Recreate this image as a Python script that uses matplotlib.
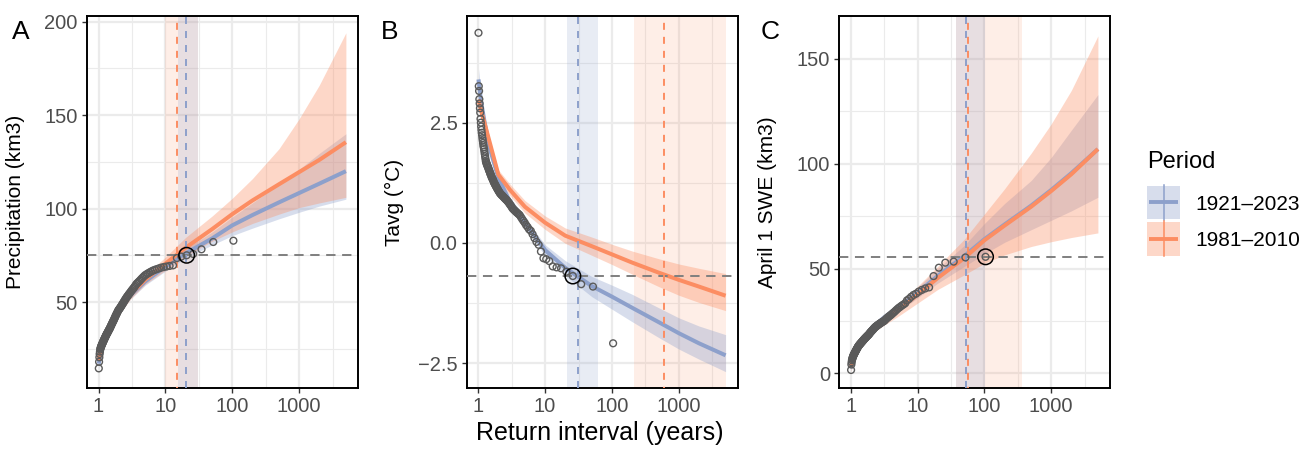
import matplotlib
matplotlib.use('Agg')
import matplotlib.pyplot as plt
from matplotlib.patches import Rectangle

plt.rcParams['font.family'] = ['Liberation Sans', 'DejaVu Sans']

BLUE = '#8DA0CB'
ORANGE = '#FC8D62'

# empirical return interval of each ranked year (shared by the three panels)
return_interval = [
    104.0, 52.0, 34.667, 26.0, 20.8, 17.333, 14.857, 13.0, 11.556, 10.4,
    9.455, 8.667, 8.0, 7.429, 6.933, 6.5, 6.118, 5.778, 5.474, 5.2,
    4.952, 4.727, 4.522, 4.333, 4.16, 4.0, 3.852, 3.714, 3.586, 3.467,
    3.355, 3.25, 3.152, 3.059, 2.971, 2.889, 2.811, 2.737, 2.667, 2.6,
    2.537, 2.476, 2.419, 2.364, 2.311, 2.261, 2.213, 2.167, 2.122, 2.08,
    2.039, 2.0, 1.962, 1.926, 1.891, 1.857, 1.825, 1.793, 1.763, 1.733,
    1.705, 1.677, 1.651, 1.625, 1.6, 1.576, 1.552, 1.529, 1.507, 1.486,
    1.465, 1.444, 1.425, 1.405, 1.387, 1.368, 1.351, 1.333, 1.316, 1.3,
    1.284, 1.268, 1.253, 1.238, 1.224, 1.209, 1.195, 1.182, 1.169, 1.156,
    1.143, 1.13, 1.118, 1.106, 1.095, 1.083, 1.072, 1.061, 1.051, 1.04,
    1.03, 1.02, 1.01]

precip_obs = [
    82.8, 82.1, 78.2, 75.7, 75.0, 74.3, 73.5, 69.6, 69.3, 69.0,
    68.7, 68.4, 68.0, 67.6, 67.2, 66.8, 66.3, 65.8, 65.3, 64.8,
    64.3, 63.6, 62.9, 62.2, 61.5, 60.9, 60.3, 59.8, 59.0, 58.2,
    57.5, 56.9, 56.3, 55.7, 55.0, 54.5, 53.9, 53.3, 52.8, 52.2,
    51.6, 51.0, 50.4, 49.8, 49.2, 48.7, 48.1, 47.6, 47.1, 46.6,
    46.2, 45.8, 45.3, 44.7, 44.1, 43.5, 43.0, 42.4, 41.8, 41.2,
    40.6, 40.1, 39.6, 39.1, 38.6, 38.1, 37.6, 37.1, 36.6, 36.1,
    35.7, 35.3, 34.9, 34.5, 34.1, 33.7, 33.3, 33.0, 32.6, 32.2,
    31.8, 31.4, 31.0, 30.6, 30.2, 29.8, 29.4, 29.0, 28.6, 28.2,
    27.8, 27.4, 27.0, 26.6, 26.2, 25.7, 25.2, 24.6, 23.4, 22.2,
    20.4, 18.0, 14.5]

tavg_obs = [
    -2.09, -0.91, -0.86, -0.69, -0.60, -0.53, -0.51, -0.49, -0.38, -0.34,
    -0.32, -0.18, -0.04, 0.02, 0.10, 0.18, 0.25, 0.28, 0.33, 0.37,
    0.42, 0.46, 0.50, 0.54, 0.58, 0.60, 0.62, 0.64, 0.66, 0.68,
    0.70, 0.72, 0.75, 0.78, 0.80, 0.83, 0.85, 0.87, 0.89, 0.90,
    0.92, 0.93, 0.95, 0.96, 0.98, 0.99, 1.00, 1.02, 1.03, 1.05,
    1.07, 1.09, 1.11, 1.13, 1.15, 1.17, 1.19, 1.21, 1.23, 1.25,
    1.27, 1.30, 1.32, 1.34, 1.36, 1.38, 1.41, 1.43, 1.45, 1.48,
    1.50, 1.52, 1.55, 1.57, 1.59, 1.61, 1.63, 1.65, 1.68, 1.70,
    1.75, 1.80, 1.85, 1.90, 1.95, 1.99, 2.03, 2.08, 2.13, 2.18,
    2.24, 2.29, 2.35, 2.42, 2.50, 2.58, 2.71, 2.80, 2.90, 2.99,
    3.16, 3.26, 4.37]

swe_obs = [
    55.6, 55.3, 53.3, 52.8, 50.4, 46.4, 41.0, 40.5, 39.8, 39.0,
    38.0, 37.4, 36.5, 35.5, 34.8, 33.4, 32.8, 32.3, 31.7, 31.2,
    30.6, 30.0, 29.4, 28.9, 28.4, 27.9, 27.5, 27.1, 26.7, 26.3,
    25.9, 25.4, 25.0, 24.8, 24.5, 24.3, 24.0, 23.8, 23.5, 23.3,
    23.0, 22.8, 22.5, 22.3, 22.0, 21.7, 21.4, 21.0, 20.7, 20.4,
    20.1, 19.8, 19.5, 19.2, 18.8, 18.5, 18.3, 18.0, 17.8, 17.6,
    17.3, 17.1, 16.9, 16.6, 16.4, 16.2, 15.9, 15.7, 15.4, 15.2,
    15.0, 14.8, 14.5, 14.3, 14.1, 13.9, 13.7, 13.4, 13.2, 13.0,
    12.7, 12.4, 12.1, 11.8, 11.5, 11.2, 10.9, 10.6, 10.3, 10.0,
    9.7, 9.4, 9.1, 8.8, 8.5, 8.1, 7.7, 7.3, 6.8, 6.2,
    5.3, 4.2, 1.6]

# fitted return level curves
curve_T = [1.01, 1.1, 1.25, 1.5, 2, 3, 5, 10, 20, 50, 100, 200, 500, 1000, 2000, 5000]

precip_full = [17, 26, 31.5, 37, 45, 53.5, 61, 69, 76, 84, 91, 96.5, 103.3, 108.3, 113.3, 120]
precip_full_lo = [14, 24, 29.5, 35, 43, 51.5, 59, 66.5, 73.5, 80.5, 85.5, 89.5, 94.5, 98, 101.3, 105]
precip_full_hi = [20, 28, 33.5, 39, 47, 55.5, 63, 71.5, 78.5, 87.5, 95.5, 103, 113, 121, 129.5, 140]
precip_recent = [19, 27, 32, 37.5, 45.5, 54, 62, 70.5, 79, 89, 97, 104.3, 113, 119.5, 126, 135.5]
precip_recent_lo = [16, 25, 30, 35.5, 43, 51.5, 59.5, 67, 74.5, 82.5, 87.5, 92, 97, 100.5, 103, 106]
precip_recent_hi = [22, 29.5, 34.5, 40, 48, 56.5, 64.5, 74, 84.5, 96, 105.5, 116, 132, 148, 166, 194]

tavg_full = [3.40, 2.95, 2.50, 1.95, 1.35, 0.85, 0.42, -0.15, -0.52, -0.90, -1.12, -1.35, -1.65, -1.88, -2.09, -2.34]
tavg_full_lo = [3.15, 2.80, 2.38, 1.84, 1.25, 0.75, 0.32, -0.27, -0.68, -1.12, -1.38, -1.64, -1.97, -2.21, -2.42, -2.68]
tavg_full_hi = [3.62, 3.10, 2.62, 2.06, 1.45, 0.95, 0.52, -0.04, -0.37, -0.70, -0.88, -1.07, -1.35, -1.56, -1.73, -1.91]
tavg_recent = [2.98, 2.76, 2.48, 2.07, 1.42, 1.10, 0.75, 0.42, 0.15, -0.07, -0.24, -0.41, -0.62, -0.77, -0.91, -1.10]
tavg_recent_lo = [2.90, 2.69, 2.41, 2.00, 1.33, 0.98, 0.62, 0.28, -0.01, -0.26, -0.45, -0.65, -0.91, -1.09, -1.24, -1.41]
tavg_recent_hi = [3.06, 2.83, 2.55, 2.14, 1.52, 1.22, 0.88, 0.56, 0.31, 0.12, -0.03, -0.17, -0.33, -0.44, -0.53, -0.64]

swe_full = [2.5, 8.5, 12.5, 16.5, 21, 26, 31, 38.5, 46.5, 56, 64, 71, 80, 87.5, 95.5, 107]
swe_full_lo = [1, 7, 11, 15, 19.5, 24, 29, 36, 43, 51, 57, 62.5, 68.5, 73, 77.5, 84]
swe_full_hi = [4, 10, 14, 18, 23, 28, 33, 41, 50, 61, 71.5, 81, 92, 103, 116, 133]
swe_recent = [3, 8.5, 12.5, 16, 20, 24.5, 30, 37.5, 45.5, 55, 63.5, 70.5, 79.5, 87, 95, 107]
swe_recent_lo = [0.5, 6.5, 10.5, 14.5, 18.5, 22.5, 27, 33.5, 40, 47, 52.5, 56.5, 60.5, 62.8, 64.8, 67]
swe_recent_hi = [4.5, 10, 14, 17.5, 22, 27, 33, 41.5, 51, 64, 76, 88, 105, 119, 135, 161]

# event of interest and its estimated return period (with interval)
event_T = [20.8, 26.0, 104.0]
event_value = [75.0, -0.69, 55.6]
rp_full = [20.4, 31.0, 53.9]
rp_full_band = [(15.6, 31.0), (21.0, 61.0), (37.9, 103.0)]
rp_recent = [14.8, 610.0, 56.9]
rp_recent_band = [(9.9, 31.0), (214.0, 5000.0), (37.9, 361.0)]

period_labels = ['1921\u20132023', '1981\u20132010']


def draw_panel(ax, k, obs, full, full_lo, full_hi, recent, recent_lo, recent_hi,
               ylim, yticks, yminor, ylabel):
    ax.set_xscale('log')
    ax.axvspan(*rp_recent_band[k], color=ORANGE, alpha=0.15, lw=0, zorder=1)
    ax.axvspan(*rp_full_band[k], color=BLUE, alpha=0.2, lw=0, zorder=1)
    ax.fill_between(curve_T, full_lo, full_hi, color=BLUE, alpha=0.35, lw=0, zorder=2)
    ax.fill_between(curve_T, recent_lo, recent_hi, color=ORANGE, alpha=0.35, lw=0, zorder=2)
    ax.plot(curve_T, full, color=BLUE, lw=2.9, zorder=3, solid_capstyle='butt')
    ax.plot(curve_T, recent, color=ORANGE, lw=2.9, zorder=3, solid_capstyle='butt')
    ax.axhline(event_value[k], color='#7F7F7F', lw=1.4, ls=(0, (4.8, 3.4)), zorder=4)
    ax.axvline(rp_full[k], color=BLUE, lw=1.4, ls=(0, (3.6, 3.6)), zorder=4)
    ax.axvline(rp_recent[k], color=ORANGE, lw=1.4, ls=(3, (3.6, 3.6)), zorder=4)
    ax.scatter(return_interval, obs, s=24, facecolors='none', edgecolors='#5A5A5A',
               linewidths=1.0, zorder=5)
    ax.scatter([event_T[k]], [event_value[k]], s=125, facecolors='none',
               edgecolors='black', linewidths=1.1, zorder=6)

    ax.set_xlim(10 ** -0.172, 10 ** 3.88)
    ax.set_ylim(*ylim)
    ax.set_xticks([1, 10, 100, 1000])
    ax.set_xticklabels(['1', '10', '100', '1000'])
    ax.set_xticks([10 ** 0.5, 10 ** 1.5, 10 ** 2.5, 10 ** 3.5], minor=True)
    ax.set_yticks(yticks)
    ax.set_yticks(yminor, minor=True)
    ax.grid(True, which='major', color='#EBEBEB', lw=1.6)
    ax.grid(True, which='minor', color='#EBEBEB', lw=0.8)
    ax.set_axisbelow(True)
    ax.tick_params(which='major', length=3.6, width=1.0, color='#333333',
                   labelsize=14.5, labelcolor='#4D4D4D', pad=3)
    ax.tick_params(which='minor', length=0)
    for s in ax.spines.values():
        s.set_color('black')
        s.set_linewidth(1.4)
    ax.set_ylabel(ylabel, fontsize=15)
    ax.yaxis.set_label_coords(-0.23, 0.5)


fig = plt.figure(figsize=(13.11, 4.5), dpi=100)
bottom, height = 1 - 388 / 450, (388 - 16) / 450
axA = fig.add_axes([87 / 1311, bottom, 271 / 1311, height])
axB = fig.add_axes([466.7 / 1311, bottom, 271 / 1311, height])
axC = fig.add_axes([839.3 / 1311, bottom, 270.7 / 1311, height])

draw_panel(axA, 0, precip_obs, precip_full, precip_full_lo, precip_full_hi,
           precip_recent, precip_recent_lo, precip_recent_hi,
           (4, 203), [50, 100, 150, 200], [25, 75, 125, 175], 'Precipitation (km3)')
axA.set_yticklabels(['50', '100', '150', '200'])

draw_panel(axB, 1, tavg_obs, tavg_full, tavg_full_lo, tavg_full_hi,
           tavg_recent, tavg_recent_lo, tavg_recent_hi,
           (-3.02, 4.72), [-2.5, 0, 2.5], [-1.25, 1.25, 3.75], 'Tavg (\u00b0C)')
axB.set_yticklabels(['\u22122.5', '0.0', '2.5'])
axB.set_xlabel('Return interval (years)', fontsize=18)
axB.xaxis.set_label_coords(0.49, -0.088)

draw_panel(axC, 2, swe_obs, swe_full, swe_full_lo, swe_full_hi,
           swe_recent, swe_recent_lo, swe_recent_hi,
           (-7, 170.5), [0, 50, 100, 150], [25, 75, 125], 'April 1 SWE (km3)')
axC.set_yticklabels(['0', '50', '100', '150'])

# overlay in pixel coordinates for panel tags and legend
lax = fig.add_axes([0, 0, 1, 1])
lax.set_xlim(0, 1311)
lax.set_ylim(450, 0)
lax.axis('off')
for tag, x in zip(['A', 'B', 'C'], [12, 381, 761]):
    lax.text(x, 39, tag, fontsize=19, va='baseline', ha='left')

lax.text(1147, 168, 'Period', fontsize=17, va='baseline', ha='left')
for y0, color, label in zip([185.7, 222.3], [BLUE, ORANGE], period_labels):
    lax.add_patch(Rectangle((1147, y0), 33, 33.3, facecolor=color, alpha=0.35, lw=0))
    lax.plot([1163.5, 1163.5], [y0 - 1, y0 + 34], color=color, lw=1.1)
    lax.plot([1149, 1178], [y0 + 16.7, y0 + 16.7], color=color, lw=2.8,
             solid_capstyle='butt')
    lax.text(1195, y0 + 16.7, label, fontsize=15, va='center_baseline', ha='left')

fig.savefig('out.png', dpi=100)
